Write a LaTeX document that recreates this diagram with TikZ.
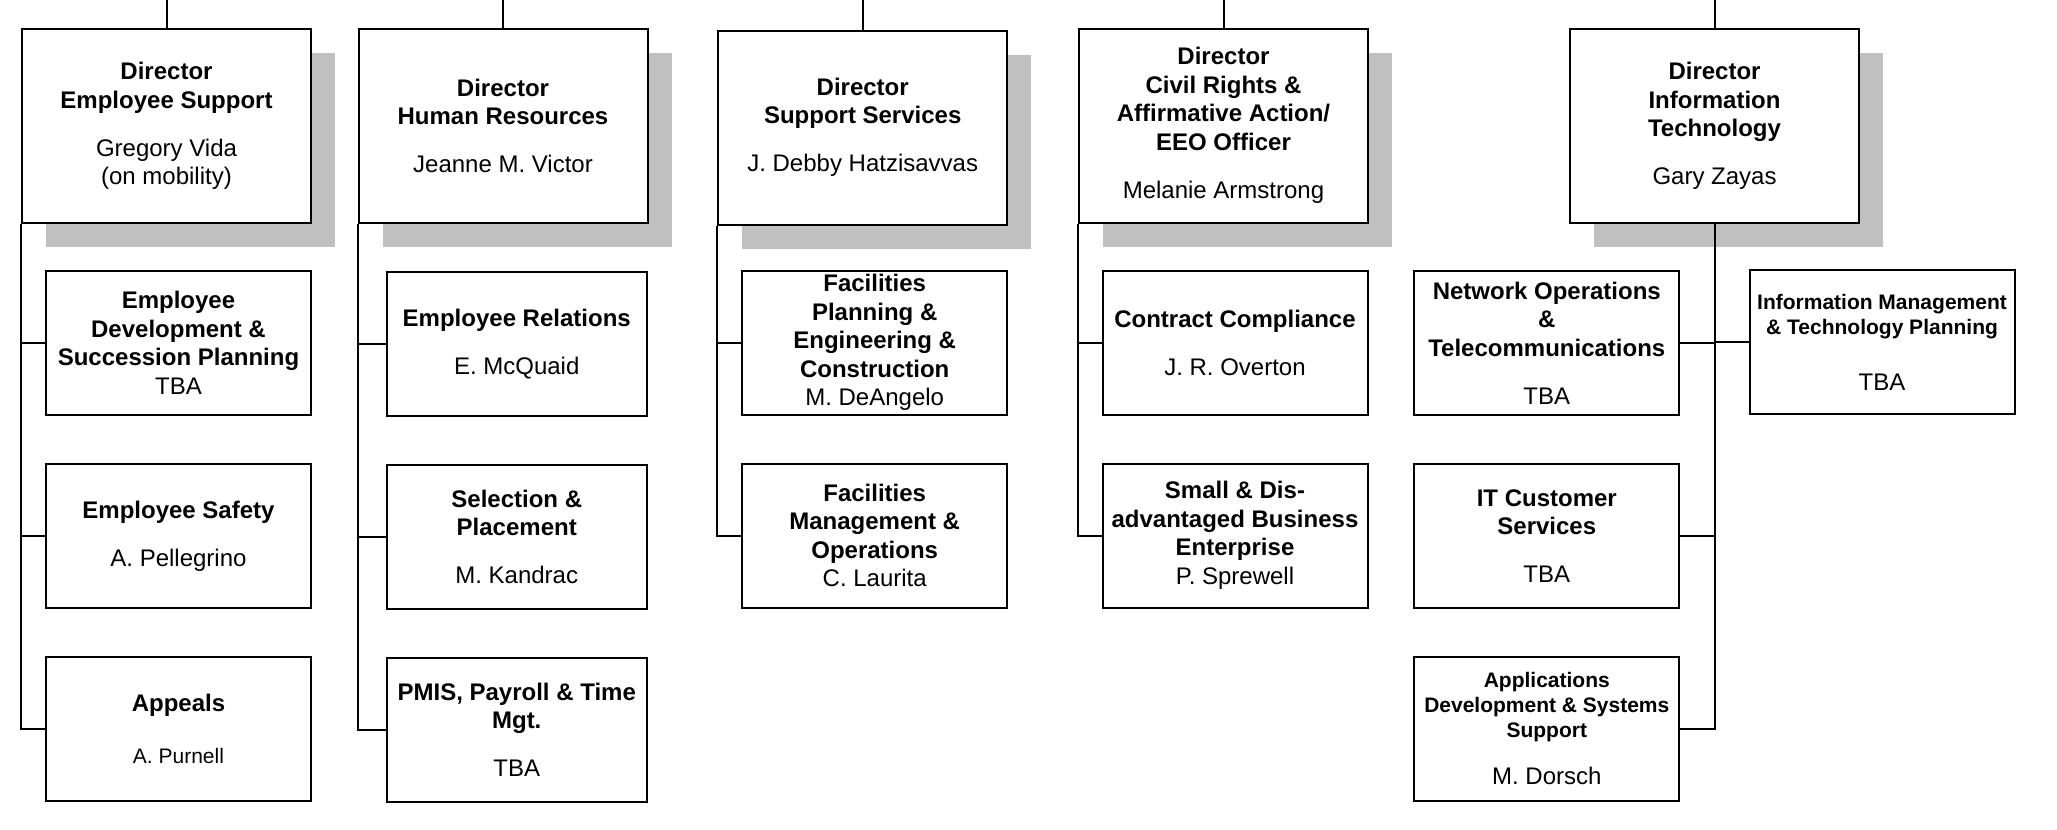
\documentclass[tikz,border=0pt]{standalone}
\usepackage{fontspec}
\setmainfont{Liberation Sans}
\usetikzlibrary{positioning}
\usetikzlibrary{shadows}
\definecolor{shadowgray}{RGB}{192,192,192}
\newcommand{\unitsmall}{\fontsize{10.5}{12.5}\selectfont}
\newcommand{\unitnormal}{\fontsize{12}{14.25}\selectfont}
\tikzset{
        boxnode/.style={align=center, draw=black, line width=1pt, fill=white, inner xsep=2pt, inner ysep=1pt, font=\unitnormal},
        % Director nodes
        node_director/.style={boxnode, minimum width=144.5pt, minimum height=97pt,
            drop shadow={shadow xshift=12pt, shadow yshift=-12pt, fill=shadowgray, opacity=1}},
        % Unit nodes
        node_unit/.style={boxnode, minimum width=132.5pt, minimum height=72pt},
        % Unit nodes with small text
        node_unit_small/.style={node_unit, font=\unitsmall},
        % Lines between nodes
        orgline/.style={draw=black, line width=1pt}
}
\begin{document}
\begin{tikzpicture}[x=0.5pt, y=-0.5pt]
    \useasboundingbox (0,0) rectangle (2057,830);
    % Directors
    \node[node_director] (es) at (166.5,126) {\textbf{Director}\\\textbf{Employee Support}\\[9.75pt]Gregory Vida\\(on mobility)};
    \node[node_director] (hr) at (503,126) {\textbf{Director}\\\textbf{Human Resources}\\[9.75pt]Jeanne M. Victor};
    \node[node_director] (ss) at (862.7,127.5) {\textbf{Director}\\\textbf{Support Services}\\[9.75pt]J. Debby Hatzisavvas};
    \node[node_director] (cr) at (1223.5,125.5) {\textbf{Director}\\\textbf{Civil Rights \&}\\\textbf{Affirmative Action/}\\\textbf{EEO Officer}\\[9.75pt]Melanie Armstrong};
    \node[node_director] (it) at (1714.5,126) {\textbf{Director}\\\textbf{Information}\\\textbf{Technology}\\[9.75pt]Gary Zayas};

    % Employee Support
    \node[node_unit] (es_dev) at (178.5,343) {\textbf{Employee}\\\textbf{Development \&}\\\textbf{Succession Planning}\\TBA};
    \node[node_unit, below=23.5pt of es_dev] (es_safety) {\textbf{Employee Safety}\\[9.75pt]A. Pellegrino};
    \node[node_unit, below=23.5pt of es_safety] (es_appeals) {\textbf{Appeals}\\[11.75pt]\unitsmall A. Purnell};

    % Human Resources
    \node[node_unit, minimum width=130.25pt] (hr_rel) at (516.75,344) {\textbf{Employee Relations}\\[9.75pt]E. McQuaid};
    \node[node_unit, minimum width=130.25pt, below=23.5pt of hr_rel] (hr_sel) {\textbf{Selection \&}\\\textbf{Placement}\\[9.75pt]M. Kandrac};
    \node[node_unit, minimum width=130.25pt, below=23.5pt of hr_sel] (hr_pmis) {\textbf{PMIS, Payroll \& Time}\\\textbf{Mgt.}\\[9.75pt]TBA};

    % Support Services
    \node[node_unit] (ss_fpe) at (874.7,342.5) {\textbf{Facilities}\\\textbf{Planning \&}\\\textbf{Engineering \&}\\\textbf{Construction}\\M. DeAngelo};
    \node[node_unit, below=23.5pt of ss_fpe] (ss_fmo) {\textbf{Facilities}\\\textbf{Management \&}\\\textbf{Operations}\\C. Laurita};

    % Civil Rights
    \node[node_unit] (cr_cc) at (1235,342.5) {\textbf{Contract Compliance}\\[9.75pt]J. R. Overton};
    \node[node_unit, below=23.5pt of cr_cc] (cr_sdb) {\textbf{Small \& Dis-}\\\textbf{advantaged Business}\\\textbf{Enterprise}\\P. Sprewell};

    % Information Technology
    \node[node_unit] (it_net) at (1546.8,343) {\textbf{Network Operations}\\\textbf{\&}\\\textbf{Telecommunications}\\[9.75pt]TBA};
    \node[node_unit, below=23.5pt of it_net] (it_cust) {\textbf{IT Customer}\\\textbf{Services}\\[9.75pt]TBA};
    \node[node_unit_small, below=23.5pt of it_cust] (it_apps) {\textbf{Applications}\\\textbf{Development \& Systems}\\\textbf{Support}\\[11pt]\unitnormal M. Dorsch};
    \node[node_unit_small] (it_info) at (1882,342) {\textbf{Information Management}\\\textbf{\& Technology Planning}\\[15.5pt]\unitnormal TBA};

    % Lines from the top
    \coordinate (es_top) at (166.5,0);
    \coordinate (hr_top) at (503,0);
    \coordinate (ss_top) at (862.7,0);
    \coordinate (cr_top) at (1223.5,0);
    \coordinate (it_top) at (1714.5,0);
    \draw[orgline] (es_top) -- (es.north);
    \draw[orgline] (hr_top) -- (hr.north);
    \draw[orgline] (ss_top) -- (ss.north);
    \draw[orgline] (cr_top) -- (cr.north);
    \draw[orgline] (it_top) -- (it.north);

    % Lines to the units
    \draw[orgline] (es.south west) |- (es_dev.west);
    \draw[orgline] (es.south west) |- (es_safety.west);
    \draw[orgline] (es.south west) |- (es_appeals.west);
    \draw[orgline] (hr.south west) |- (hr_rel.west);
    \draw[orgline] (hr.south west) |- (hr_sel.west);
    \draw[orgline] (hr.south west) |- (hr_pmis.west);
    \draw[orgline] (ss.south west) |- (ss_fpe.west);
    \draw[orgline] (ss.south west) |- (ss_fmo.west);
    \draw[orgline] (cr.south west) |- (cr_cc.west);
    \draw[orgline] (cr.south west) |- (cr_sdb.west);
    \draw[orgline] (it.south) |- (it_net.east);
    \draw[orgline] (it.south) |- (it_cust.east);
    \draw[orgline] (it.south) |- (it_apps.east);
    \draw[orgline] (it.south) |- (it_info.west);
\end{tikzpicture}
\end{document}
